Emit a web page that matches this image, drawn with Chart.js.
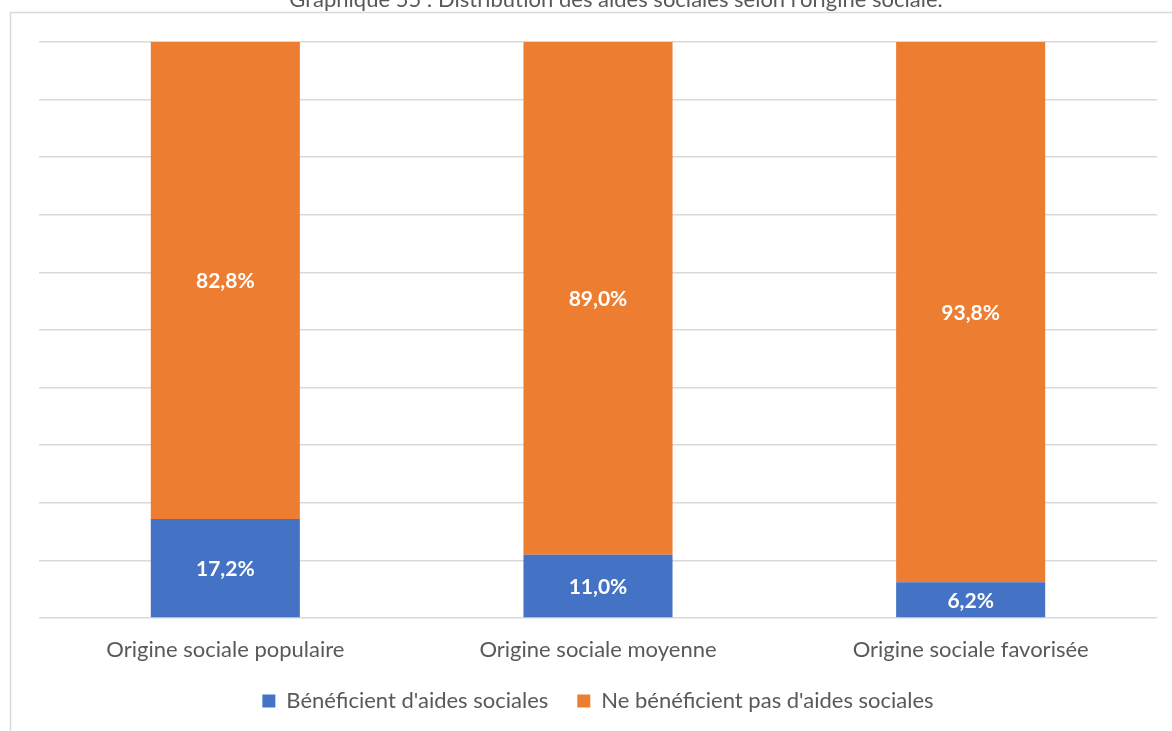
<!DOCTYPE html>
<html>
<head>
<meta charset="utf-8">
<style>
  html, body { margin: 0; padding: 0; background: #ffffff; }
  #wrap { position: relative; width: 1172px; height: 731px; }
</style>
<script src="https://cdn.jsdelivr.net/npm/chart.js@4/dist/chart.umd.min.js"></script>
</head>
<body>
<div id="wrap"><canvas id="chart" width="1172" height="731"></canvas></div>
<script>
const titleText = "Graphique 55 : Distribution des aides sociales selon l'origine sociale.";
const categories = ["Origine sociale populaire", "Origine sociale moyenne", "Origine sociale favorisée"];
const seriesNames = ["Bénéficient d'aides sociales", "Ne bénéficient pas d'aides sociales"];
const beneficient = [17.2, 11.0, 6.2];
const neBeneficientPas = [82.8, 89.0, 93.8];
const yTicks = [0, 10, 20, 30, 40, 50, 60, 70, 80, 90, 100];

const FONT = "Lato, 'Open Sans', sans-serif";
const GREY_TEXT = "#595959";
const GRID = "#d9d9d9";

const fmt = v => v.toFixed(1).replace('.', ',') + '%';

// Frame and title around the plot
const framePlugin = {
  id: 'frame',
  beforeDraw(chart) {
    const ctx = chart.ctx;
    ctx.save();
    ctx.strokeStyle = GRID;
    ctx.lineWidth = 1.5;
    ctx.beginPath();
    ctx.moveTo(10.5, 731);
    ctx.lineTo(10.5, 12.5);
    ctx.lineTo(1172, 12.5);
    ctx.stroke();
    ctx.fillStyle = GREY_TEXT;
    ctx.font = "22px " + FONT;
    ctx.textAlign = 'center';
    ctx.textBaseline = 'alphabetic';
    ctx.fillText(titleText, 616, 7);
    ctx.restore();
  }
};

// Percentage labels centred in each stacked segment
const valueLabels = {
  id: 'valueLabels',
  afterDatasetsDraw(chart) {
    const ctx = chart.ctx;
    ctx.save();
    ctx.fillStyle = '#ffffff';
    ctx.font = "bold 21px " + FONT;
    ctx.textAlign = 'center';
    ctx.textBaseline = 'middle';
    chart.data.datasets.forEach((ds, i) => {
      const meta = chart.getDatasetMeta(i);
      meta.data.forEach((bar, j) => {
        const top = Math.min(bar.y, bar.base);
        const bottom = Math.max(bar.y, bar.base);
        ctx.fillText(fmt(ds.data[j]), bar.x, (top + bottom) / 2 + 1);
      });
    });
    ctx.restore();
  }
};

new Chart(document.getElementById('chart'), {
  type: 'bar',
  data: {
    labels: categories,
    datasets: [
      { label: seriesNames[0], data: beneficient, backgroundColor: '#4472c4' },
      { label: seriesNames[1], data: neBeneficientPas, backgroundColor: '#ed7d31' }
    ]
  },
  options: {
    responsive: false,
    animation: false,
    devicePixelRatio: 1,
    datasets: { bar: { categoryPercentage: 1, barPercentage: 0.4 } },
    layout: { padding: { left: 39, right: 15, top: 42, bottom: 9 } },
    scales: {
      x: {
        stacked: true,
        grid: { display: false, drawTicks: false },
        border: { display: false },
        ticks: { color: GREY_TEXT, font: { family: FONT, size: 22 }, padding: 19 },
        afterFit(s) { s.height = 43; }
      },
      y: {
        stacked: true,
        min: 0, max: 100,
        afterBuildTicks(s) { s.ticks = yTicks.map(v => ({ value: v })); },
        ticks: { display: false },
        border: { display: false },
        grid: { color: GRID, lineWidth: 1.5, drawTicks: false },
        afterFit(s) { s.width = 0; }
      }
    },
    plugins: {
      title: { display: false },
      tooltip: { enabled: false },
      legend: {
        position: 'bottom',
        labels: {
          color: GREY_TEXT,
          font: { family: FONT, size: 22 },
          boxWidth: 13, boxHeight: 13,
          padding: 29
        }
      }
    }
  },
  plugins: [framePlugin, valueLabels]
});
</script>
</body>
</html>
